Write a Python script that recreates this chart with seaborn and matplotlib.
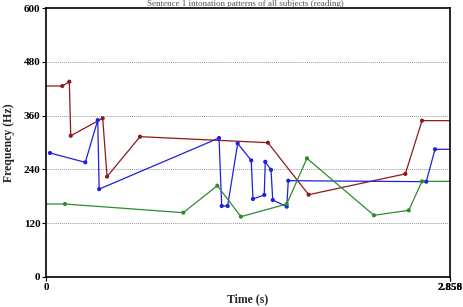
import matplotlib
matplotlib.use("Agg")
import matplotlib.pyplot as plt
import seaborn as sns
import pandas as pd

# Data
red_t = [0.0, 0.115, 0.165, 0.175, 0.401, 0.432, 0.665, 1.570, 1.858, 2.542, 2.660, 2.858]
red_f = [426, 426, 435.6, 315, 354, 224, 313, 299.6, 183.6, 230, 348.7, 348.7]

blue_t = [0.028, 0.278, 0.366, 0.376, 1.224, 1.243, 1.285, 1.356, 1.452, 1.464,
          1.544, 1.551, 1.592, 1.604, 1.703, 1.714, 2.690, 2.752, 2.858]
blue_f = [276.6, 255.8, 350, 196, 310, 158.4, 158.4, 298, 260, 174,
          183, 257, 239, 171.8, 156.9, 214.8, 212.6, 284.8, 284.8]

green_t = [0.0, 0.134, 0.971, 1.212, 1.379, 1.703, 1.846, 2.320, 2.566, 2.660, 2.858]
green_f = [162.8, 162.8, 143.5, 203.7, 134.6, 162.8, 264.7, 137.6, 148.7, 213.4, 213.4]

y_ticks = [0, 120, 240, 360, 480, 600]
x_ticks = [0, 2.856, 2.858]
x_ticklabels = ["0", "2.856", "2.858"]
title = "Sentence 1 intonation patterns of all subjects (reading)"

sns.set_theme(style="white")
plt.rcParams['font.family'] = ['Liberation Serif', 'DejaVu Serif']

fig = plt.figure(figsize=(4.63, 3.07), dpi=100)
ax = fig.add_axes([46/463, 30/307, 404/463, 269/307])

series = [
    (red_t, red_f, "#8b1a1a", slice(1, -1)),
    (blue_t, blue_f, "#2020dc", slice(0, -1)),
    (green_t, green_f, "#2e8b2e", slice(1, -1)),
]
for t, f, c, sl in series:
    df = pd.DataFrame({"t": t, "f": f})
    sns.lineplot(data=df, x="t", y="f", color=c, lw=0.9, sort=False,
                 estimator=None, ax=ax)
    sns.scatterplot(data=df.iloc[sl], x="t", y="f", color=c, s=9,
                    edgecolor="none", ax=ax, zorder=3)

ax.set_xlim(0, 2.858)
ax.set_ylim(0, 600)
ax.set_yticks(y_ticks)
ax.set_yticklabels([str(v) for v in y_ticks])
ax.set_xticks(x_ticks)
ax.set_xticklabels(x_ticklabels)
for v in y_ticks[1:-1]:
    ax.axhline(v, color="#999999", lw=0.7, ls=(0, (1, 1)), zorder=0)

for s in ax.spines.values():
    s.set_color("black")
    s.set_linewidth(1.2)
    s.set_visible(True)

ax.tick_params(axis="both", direction="out", length=3, width=0.8, colors="black",
               labelsize=8, pad=1, left=True, bottom=True)
for lab in ax.get_xticklabels() + ax.get_yticklabels():
    lab.set_fontweight("bold")

ax.set_xlabel("Time (s)", fontsize=8.5, fontweight="bold", labelpad=1)
ax.set_ylabel("Frequency (Hz)", fontsize=8.5, fontweight="bold", labelpad=6)

fig.text(0.53, 0.999, title, ha="center", va="top", fontsize=6.5, color="#555555")

fig.savefig("out.png", dpi=100)
